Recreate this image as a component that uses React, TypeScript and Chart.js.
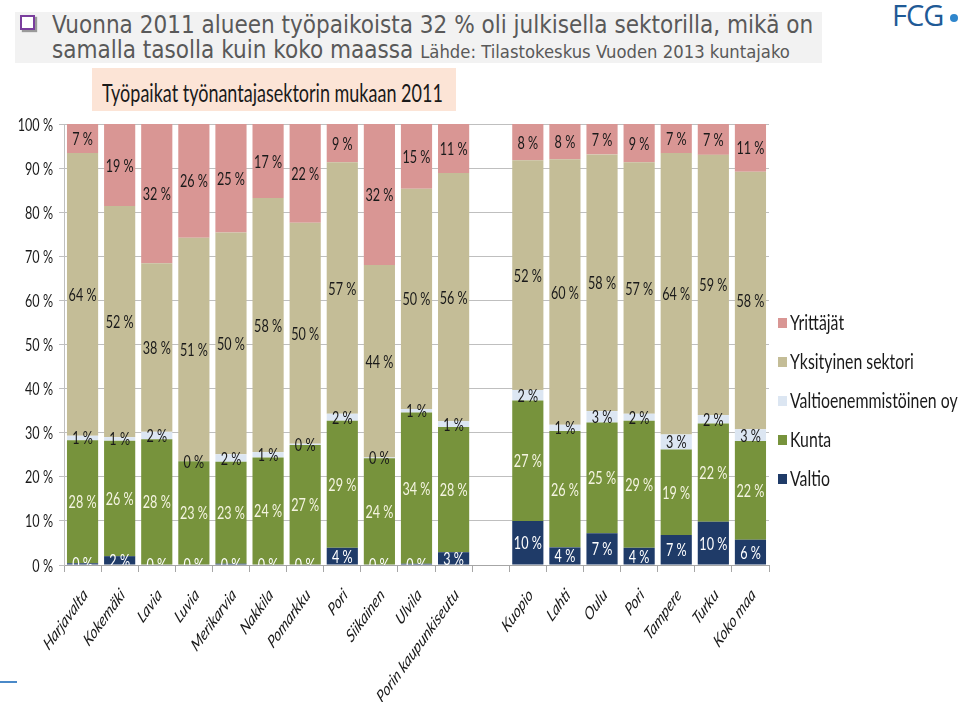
import React, { useEffect, useRef } from "react";
import { Chart, registerables } from "chart.js";

Chart.register(...registerables);

const categories = [
  "Harjavalta", "Kokemäki", "Lavia", "Luvia", "Merikarvia", "Nakkila", "Pomarkku",
  "Pori", "Siikainen", "Ulvila", "Porin kaupunkiseutu", "",
  "Kuopio", "Lahti", "Oulu", "Pori", "Tampere", "Turku", "Koko maa",
];

const valtio = [0.4, 2.0, 0.1, 0.1, 0.3, 0.1, 0.1, 3.9, 0.1, 0.3, 2.9, null, 10.0, 4.0, 7.2, 3.9, 6.8, 9.8, 5.7];
const kunta = [27.9, 26.2, 28.4, 23.4, 23.1, 24.3, 27.1, 28.8, 24.1, 34.3, 28.4, null, 27.3, 26.4, 25.1, 28.8, 19.4, 22.3, 22.4];
const valtioenemmistoinen = [1.0, 0.8, 1.7, 0.1, 1.7, 1.2, 0.3, 1.6, 0.2, 0.8, 1.3, null, 2.4, 1.4, 2.6, 1.6, 3.4, 1.9, 2.7];
const yksityinen = [64.1, 52.4, 38.2, 50.6, 50.3, 57.6, 50.1, 57.0, 43.6, 49.9, 56.3, null, 52.1, 60.2, 58.2, 57.0, 63.8, 59.0, 58.4];
const yrittajat = [6.6, 18.6, 31.6, 25.8, 24.6, 16.8, 22.4, 8.7, 32.0, 14.7, 11.1, null, 8.2, 8.0, 6.9, 8.7, 6.6, 7.0, 10.8];

const yTicks = [0, 10, 20, 30, 40, 50, 60, 70, 80, 90, 100];

const seriesNames = ["Valtio", "Kunta", "Valtioenemmistöinen oy", "Yksityinen sektori", "Yrittäjät"];
const seriesColors = ["#1F3B68", "#77933C", "#DCE6F2", "#C4BD97", "#D99694"];
const labelColors = ["#FFFFFF", "#F4F4E0", "#1A1A1A", "#1A1A1A", "#1A1A1A"];

const FONT = "Lato, 'Open Sans', sans-serif";
const SQUASH = 0.72;
const LSQ = 0.7;

const labelPlugin = {
  id: "segLabels",
  afterDatasetsDraw(chart: any) {
    const ctx = chart.ctx;
    const area = chart.chartArea;
    ctx.save();
    ctx.beginPath();
    ctx.rect(area.left, area.top, area.right - area.left, area.bottom - area.top);
    ctx.clip();
    ctx.font = "18px " + FONT;
    ctx.textAlign = "center";
    ctx.textBaseline = "alphabetic";
    chart.data.datasets.forEach((ds: any, di: number) => {
      const meta = chart.getDatasetMeta(di);
      meta.data.forEach((el: any, i: number) => {
        const v = ds.data[i];
        if (v === null || v === undefined) return;
        const p = el.getProps(["x", "y", "base"], true);
        ctx.save();
        ctx.translate(p.x, (p.y + p.base) / 2);
        ctx.scale(LSQ, 1);
        ctx.fillStyle = labelColors[di];
        ctx.fillText(Math.round(v) + " %", 0, 6.5);
        ctx.restore();
      });
    });
    ctx.restore();
  },
  afterDraw(chart: any) {
    const ctx = chart.ctx;
    const xs = chart.scales.x;
    const ys = chart.scales.y;
    ctx.save();
    ctx.fillStyle = "#1A1A1A";
    // y tick labels
    ctx.font = "18px " + FONT;
    ctx.textAlign = "right";
    ctx.textBaseline = "alphabetic";
    yTicks.forEach((v) => {
      const y = ys.getPixelForValue(v);
      ctx.save();
      ctx.translate(ys.left + ys.width - 11, y);
      ctx.scale(LSQ, 1);
      ctx.fillText(v + " %", 0, 6.5);
      ctx.restore();
    });
    // x tick labels
    ctx.font = "italic 18px " + FONT;
    ctx.textAlign = "right";
    ctx.textBaseline = "middle";
    categories.forEach((c, i) => {
      if (!c) return;
      const x = xs.getPixelForValue(i);
      ctx.save();
      ctx.translate(x + 3, xs.top + 27);
      ctx.scale(SQUASH, 1);
      ctx.rotate(-Math.PI / 4);
      ctx.fillText(c, 0, 0);
      ctx.restore();
    });
    ctx.restore();
  },
};

function ChartCanvas() {
  const ref = useRef<HTMLCanvasElement | null>(null);
  useEffect(() => {
    if (!ref.current) return;
    const seriesData = [valtio, kunta, valtioenemmistoinen, yksityinen, yrittajat];
    const chart = new Chart(ref.current, {
      type: "bar",
      data: {
        labels: categories,
        datasets: seriesData.map((d, i) => ({
          label: seriesNames[i],
          data: d,
          backgroundColor: seriesColors[i],
          borderWidth: 0,
          barPercentage: 0.84,
          categoryPercentage: 1,
        })),
      },
      options: {
        animation: false,
        responsive: false,
        maintainAspectRatio: false,
        layout: { padding: { top: 124, right: 191, left: 0, bottom: 0 } },
        plugins: {
          legend: { display: false },
          tooltip: { enabled: false },
          title: { display: false },
        },
        scales: {
          x: {
            stacked: true,
            offset: true,
            grid: {
              display: true,
              drawOnChartArea: false,
              drawTicks: true,
              tickLength: 7,
              color: "#A6A6A6",
              offset: true,
            },
            border: { display: true, color: "#A6A6A6" },
            ticks: { display: false, autoSkip: false },
            afterFit: (scale: any) => {
              scale.height = 137;
            },
          },
          y: {
            stacked: true,
            min: 0,
            max: 100,
            afterBuildTicks: (scale: any) => {
              scale.ticks = yTicks.map((v) => ({ value: v }));
            },
            grid: { color: "#BFBFBF", tickLength: 5, drawTicks: true },
            border: { display: true, color: "#BFBFBF" },
            ticks: { display: false },
            afterFit: (scale: any) => {
              scale.width = 64;
            },
          },
        },
      },
      plugins: [labelPlugin],
    });
    return () => chart.destroy();
  }, []);
  return <canvas ref={ref} width={960} height={702} style={{ position: "absolute", left: 0, top: 0 }} />;
}

const legendItems = [
  { name: "Yrittäjät", color: "#D99694", y: 323 },
  { name: "Yksityinen sektori", color: "#C4BD97", y: 362 },
  { name: "Valtioenemmistöinen oy", color: "#DCE6F2", y: 401 },
  { name: "Kunta", color: "#77933C", y: 440 },
  { name: "Valtio", color: "#1F3B68", y: 479 },
];

const squash = (k: number): React.CSSProperties => ({
  transform: `scaleX(${k})`,
  transformOrigin: "0 0",
  whiteSpace: "nowrap",
});

export default function App() {
  useEffect(() => {
    document.body.style.margin = "0";
  }, []);
  const headFont = "'DejaVu Sans', Verdana, sans-serif";
  return (
    <div style={{ position: "fixed", left: 0, top: 0, width: 960, height: 702, background: "#fff", overflow: "hidden" }}>
      {/* header band */}
      <div style={{ position: "absolute", left: 15, top: 12, width: 807, height: 51, background: "#F2F2F2" }} />
      <div style={{ position: "absolute", left: 20, top: 15, width: 11, height: 11, border: "2px solid #7A3E9D", boxShadow: "2px 2px 1px #9A9A9A", background: "#fff" }} />
      <div style={{ position: "absolute", left: 52, top: 11, fontFamily: headFont, fontSize: 24, lineHeight: "28px", color: "#595959", ...squash(0.9) }}>
        Vuonna 2011 alueen työpaikoista 32 % oli julkisella sektorilla, mikä on
      </div>
      <div style={{ position: "absolute", left: 52, top: 36, fontFamily: headFont, fontSize: 24, lineHeight: "28px", color: "#595959", ...squash(0.9) }}>
        samalla tasolla kuin koko maassa <span style={{ fontSize: 18.3 }}>Lähde: Tilastokeskus Vuoden 2013 kuntajako</span>
      </div>
      {/* logo */}
      <div style={{ position: "absolute", left: 892, top: -5, fontFamily: "'Open Sans', sans-serif", fontSize: 29, lineHeight: "40px", color: "#1F5A96", letterSpacing: -1 }}>FCG</div>
      <div style={{ position: "absolute", left: 950, top: 14, width: 8, height: 8, borderRadius: 4, background: "#2F86CC" }} />
      {/* chart title */}
      <div style={{ position: "absolute", left: 92, top: 68, width: 364, height: 43, background: "#FCE4D6" }} />
      <div style={{ position: "absolute", left: 102, top: 77, fontFamily: FONT, fontSize: 25, lineHeight: "30px", color: "#1A1A1A", ...squash(SQUASH) }}>
        Työpaikat työnantajasektorin mukaan 2011
      </div>
      <ChartCanvas />
      {/* legend */}
      {legendItems.map((it) => (
        <React.Fragment key={it.name}>
          <div style={{ position: "absolute", left: 778, top: it.y - 5, width: 9, height: 10, background: it.color }} />
          <div style={{ position: "absolute", left: 790, top: it.y - 14, fontFamily: FONT, fontSize: 22, lineHeight: "26px", color: "#1A1A1A", ...squash(SQUASH) }}>
            {it.name}
          </div>
        </React.Fragment>
      ))}
      <div style={{ position: "absolute", left: 0, top: 681, width: 17, height: 2, background: "#4A89C8" }} />
    </div>
  );
}
